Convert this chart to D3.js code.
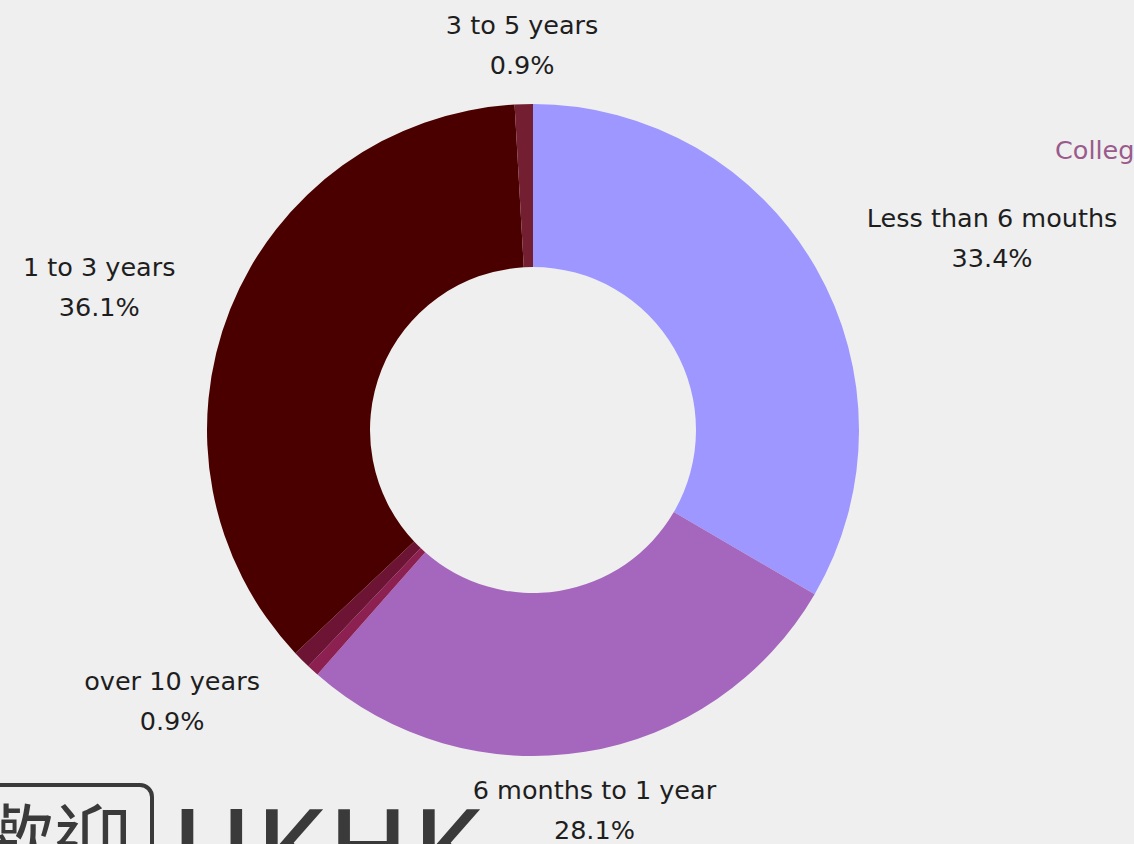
<!DOCTYPE html>
<html>
<head>
<meta charset="utf-8">
<script src="https://cdn.jsdelivr.net/npm/d3@7"></script>
<style>
  html, body { margin: 0; padding: 0; background: #efefef; overflow: hidden; }
  svg { display: block; }
</style>
</head>
<body>
<svg id="chart" width="1134" height="844"></svg>
<script>
const categories = ["Less than 6 mouths", "6 months to 1 year", "5 to 10 years", "over 10 years", "1 to 3 years", "3 to 5 years"];
const values = [33.4, 28.1, 0.6, 0.9, 36.1, 0.9];
const labeled = [true, true, false, true, true, true];
const colors = ["#9d97ff", "#a566bd", "#8c2050", "#6d1434", "#4b0000", "#731f31"];

const W = 1134, H = 844;
const cx = 533, cy = 430, rOuter = 326, rInner = 163, rLabel = 385;

const svg = d3.select("#chart");
svg.append("rect").attr("width", W).attr("height", H).attr("fill", "#efefef");

const data = categories.map((c, i) => ({ name: c, value: values[i], labeled: labeled[i], color: colors[i] }));
const pie = d3.pie().sort(null).value(d => d.value);
const arcs = pie(data);
const arc = d3.arc().innerRadius(rInner).outerRadius(rOuter);

const g = svg.append("g").attr("transform", `translate(${cx},${cy})`);
g.selectAll("path").data(arcs).join("path")
  .attr("d", arc)
  .attr("fill", d => d.data.color);

const fontFamily = "'DejaVu Sans', sans-serif";
const fontSize = 25.5;
const lineH = 40;

arcs.filter(a => a.data.labeled).forEach(a => {
  const ang = (a.startAngle + a.endAngle) / 2;
  const px = rLabel * Math.sin(ang);
  const py = -rLabel * Math.cos(ang);
  const lines = [a.data.name, d3.format(".1f")(a.data.value) + "%"];
  const tg = g.append("g");
  const texts = lines.map((t, i) => tg.append("text")
    .attr("font-family", fontFamily)
    .attr("font-size", fontSize)
    .attr("fill", "#1e1e1e")
    .attr("text-anchor", "middle")
    .attr("dominant-baseline", "central")
    .attr("y", py + (i - 0.5) * lineH)
    .text(t));
  const w = d3.max(texts, t => t.node().getComputedTextLength());
  let bx = px;
  const s = Math.sin(ang);
  if (s > 0.3) bx = px + w / 2;
  else if (s < -0.3) bx = px - w / 2;
  texts.forEach(t => t.attr("x", bx));
});

// partially visible title at right edge
svg.append("text")
  .attr("x", 1055).attr("y", 159)
  .attr("font-family", fontFamily)
  .attr("font-size", 25.5)
  .attr("fill", "#9a5a8c")
  .text("College");

// watermark logo at bottom-left
const logo = svg.append("g");
logo.append("rect")
  .attr("x", -30).attr("y", 785).attr("width", 182).attr("height", 120)
  .attr("rx", 12).attr("fill", "none").attr("stroke", "#3a3a3a").attr("stroke-width", 4);
logo.append("text")
  .attr("x", 132).attr("y", 870)
  .attr("text-anchor", "end")
  .attr("font-family", "'Noto Sans CJK TC', sans-serif")
  .attr("font-size", 78)
  .attr("fill", "#3a3a3a")
  .text("歡迎");
logo.append("text")
  .attr("x", 172).attr("y", 886)
  .attr("font-family", "'Noto Sans', sans-serif")
  .attr("font-size", 108)
  .attr("font-weight", 500)
  .attr("letter-spacing", 4)
  .attr("fill", "#3a3a3a")
  .text("UKHK");
</script>
</body>
</html>
